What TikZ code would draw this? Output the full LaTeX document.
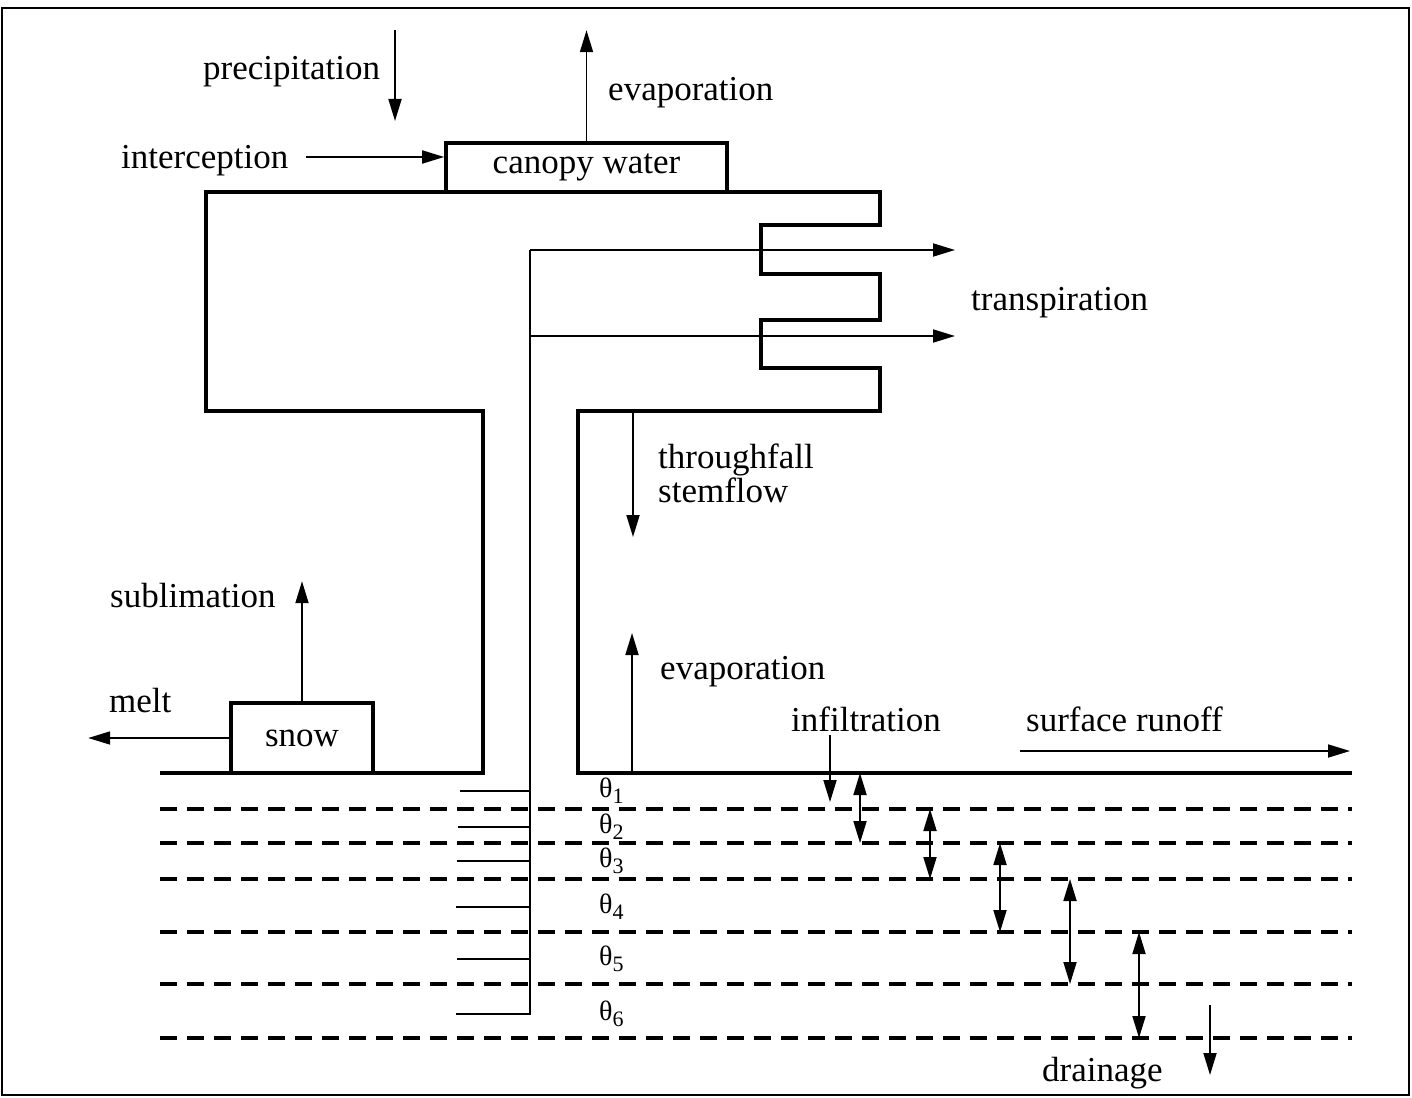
\documentclass[tikz,border=0pt]{standalone}
\usepackage{fontspec}
\setmainfont{Liberation Serif}
\usetikzlibrary{arrows.meta, calc}

\newcommand{\moist}[1]{θ\raisebox{-6pt}{\fontsize{22}{24}\selectfont #1}}

\begin{document}
\begin{tikzpicture}[x = 1pt, y = -1pt,
		outline/.style = {line width = 3.6pt},
		vessel/.style = {line width = 1.8pt},
		layer/.style = {line width = 4pt, dash pattern = on 17pt off 10pt},
		flux/.style = {line width = 1.8pt, -{Triangle[length = 22pt, width = 13pt]}},
		exchange/.style = {line width = 1.8pt, {Triangle[length = 22pt, width = 13pt]}-{Triangle[length = 22pt, width = 13pt]}},
		store/.style = {draw, outline, inner sep = 0pt, font = \fontsize{35}{40}\selectfont},
		term/.style = {inner sep = 0pt, anchor = base west, font = \fontsize{35}{40}\selectfont},
		moisture/.style = {inner sep = 0pt, anchor = base west, font = \fontsize{28}{32}\selectfont}]
		
		\useasboundingbox (0,0) rectangle (1412,1097);
		\draw [line width = 2pt] (2,8) rectangle (1409,1095);
		
		\coordinate (ground left) at (160,773);
		\coordinate (ground right) at (1352,773);
		\coordinate (trunk left) at (483,773);
		\coordinate (trunk right) at (578,773);
		
		\coordinate (xylem top) at (530,250);
		\coordinate (xylem branch) at (530,336);
		\coordinate (xylem bottom) at (530,1014);
		
		\node (canopy) [store, minimum width = 281pt, minimum height = 49pt] at (586.5,167.5) {canopy water};
		\node (snow) [store, minimum width = 142pt, minimum height = 70pt] at (302,738) {snow};
		
		\draw [outline] (ground left) -- (trunk left) -- (483,411) -- (206,411) -- (206,192) -- (880,192) -- (880,225) -- (761,225) -- (761,274) -- (880,274) -- (880,320) -- (761,320) -- (761,368) -- (880,368) -- (880,411) -- (578,411) -- (trunk right) -- (ground right);
		
		\draw [layer] (160,809) -- (1352,809);
		\draw [layer] (160,843) -- (1352,843);
		\draw [layer] (160,879) -- (1352,879);
		\draw [layer] (160,932) -- (1352,932);
		\draw [layer] (160,984) -- (1352,984);
		\draw [layer] (160,1038) -- (1352,1038);
		
		\draw [vessel] (xylem top) -- (xylem bottom) -- ++(-74,0);
		\draw [vessel] (530,791) -- ++(-70,0);
		\draw [vessel] (530,827) -- ++(-72,0);
		\draw [vessel] (530,861) -- ++(-73,0);
		\draw [vessel] (530,907) -- ++(-74,0);
		\draw [vessel] (530,959) -- ++(-73,0);
		
		\node (theta 1) [moisture] at (599,797) {\moist{1}};
		\node (theta 2) [moisture] at (599,833) {\moist{2}};
		\node (theta 3) [moisture] at (599,867) {\moist{3}};
		\node (theta 4) [moisture] at (599,913) {\moist{4}};
		\node (theta 5) [moisture] at (599,965) {\moist{5}};
		\node (theta 6) [moisture] at (599,1020) {\moist{6}};
		
		\node (precipitation) [term] at (203,80) {precipitation};
		\node (canopy evaporation) [term] at (608,101) {evaporation};
		\node (interception) [term] at (121,168) {interception};
		\node (transpiration) [term] at (971,310) {transpiration};
		\node (throughfall) [term] at (658,468) {throughfall};
		\node (stemflow) [term] at (658,502) {stemflow};
		\node (sublimation) [term] at (110,607) {sublimation};
		\node (soil evaporation) [term] at (660,679) {evaporation};
		\node (melt) [term] at (109,712) {melt};
		\node (infiltration) [term] at (791,731) {infiltration};
		\node (runoff) [term] at (1026,731) {surface runoff};
		\node (drainage) [term] at (1042,1081) {drainage};
		
		\draw [flux] (395,30) -- (395,121);
		\draw [flux] (canopy.north) -- ++(0,-111);
		\draw [flux] (306,157) -- (306,157 -| canopy.west);
		\draw [flux] (xylem top) -- (955,250);
		\draw [flux] (xylem branch) -- (955,336);
		\draw [flux] (633,411) -- (633,537);
		\draw [flux] (snow.north) -- ++(0,-120);
		\draw [flux] (snow.west) -- ++(-141,0);
		\draw [flux] (632,773) -- (632,633);
		\draw [flux] (830,735) -- (830,802);
		\draw [flux] (1020,751) -- (1350,751);
		\draw [flux] (1210,1005) -- (1210,1075);
		
		\draw [exchange] (860,773) -- (860,843);
		\draw [exchange] (930,809) -- (930,879);
		\draw [exchange] (1000,843) -- (1000,932);
		\draw [exchange] (1070,879) -- (1070,984);
		\draw [exchange] (1139,932) -- (1139,1038);
	\end{tikzpicture}
\end{document}
